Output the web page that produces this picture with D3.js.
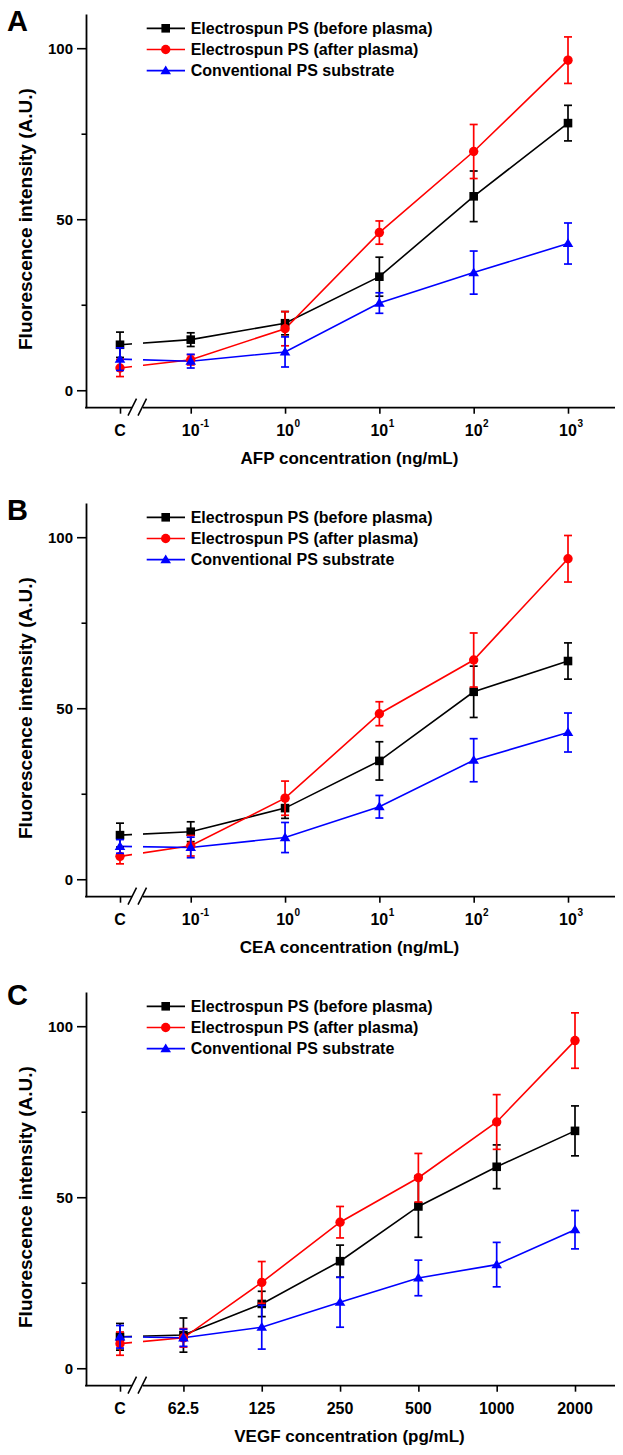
<!DOCTYPE html>
<html>
<head>
<meta charset="utf-8">
<script src="https://cdn.jsdelivr.net/npm/d3@7"></script>
<style>
  body { margin: 0; background: #ffffff; }
  svg text { font-family: "Liberation Sans", Arial, sans-serif; font-weight: bold; fill: #000; }
</style>
</head>
<body>
<svg id="chart" width="623" height="1455"></svg>
<script>
// ---------------- data ----------------
const seriesNames = ["Electrospun PS (before plasma)", "Electrospun PS (after plasma)", "Conventional PS substrate"];
const seriesColors = ["#000000", "#ff0000", "#0000ff"];
const seriesShapes = ["square", "circle", "triangle"];

const afpCategories = ["C", "10^-1", "10^0", "10^1", "10^2", "10^3"];
const afpBefore    = [13.3, 14.8, 19.6, 33.2, 56.7, 78.1];
const afpBeforeErr = [3.7, 2.0, 3.4, 5.7, 7.4, 5.2];
const afpAfter     = [6.5, 8.9, 18.0, 46.1, 69.8, 96.5];
const afpAfterErr  = [2.5, 1.5, 5.0, 3.4, 7.9, 6.8];
const afpConv      = [9.1, 8.5, 11.2, 25.5, 34.4, 42.9];
const afpConvErr   = [3.3, 2.0, 4.4, 3.0, 6.3, 6.0];

const ceaCategories = ["C", "10^-1", "10^0", "10^1", "10^2", "10^3"];
const ceaBefore    = [12.9, 13.9, 20.8, 34.6, 54.8, 63.8];
const ceaBeforeErr = [3.5, 2.9, 3.0, 5.6, 7.5, 5.3];
const ceaAfter     = [6.7, 9.8, 23.7, 48.4, 64.1, 93.7];
const ceaAfterErr  = [2.2, 3.0, 5.0, 3.5, 7.9, 6.8];
const ceaConv      = [9.6, 9.3, 12.2, 21.2, 34.8, 42.9];
const ceaConvErr   = [2.0, 3.0, 4.4, 3.3, 6.3, 5.7];

const vegfCategories = ["C", "62.5", "125", "250", "500", "1000", "2000"];
const vegfBefore    = [9.2, 9.7, 18.8, 31.3, 47.3, 58.9, 69.4];
const vegfBeforeErr = [3.9, 5.0, 3.7, 4.7, 9.0, 6.4, 7.3];
const vegfAfter     = [7.2, 8.9, 25.1, 42.7, 55.7, 72.0, 95.8];
const vegfAfterErr  = [3.4, 2.7, 6.1, 4.6, 7.1, 8.0, 8.1];
const vegfConv      = [9.2, 8.9, 12.0, 19.3, 26.4, 30.3, 40.5];
const vegfConvErr   = [3.3, 2.5, 6.4, 7.3, 5.2, 6.5, 5.6];

const yMajorTicks = [0, 50, 100];
const yMinorTicks = [25, 75];
const panelLetters = ["A", "B", "C"];
const xTitles = ["AFP concentration (ng/mL)", "CEA concentration (ng/mL)", "VEGF concentration (pg/mL)"];
const yTitle = "Fluorescence intensity (A.U.)";

// ---------------- layout ----------------
const panels = [
  { cats: afpCategories, vals: [afpBefore, afpAfter, afpConv], errs: [afpBeforeErr, afpAfterErr, afpConvErr], top: 0,   cGap: 0.75, lastX: 568, letterY: 31 },
  { cats: ceaCategories, vals: [ceaBefore, ceaAfter, ceaConv], errs: [ceaBeforeErr, ceaAfterErr, ceaConvErr], top: 489, cGap: 0.75, lastX: 568, letterY: 31 },
  { cats: vegfCategories, vals: [vegfBefore, vegfAfter, vegfConv], errs: [vegfBeforeErr, vegfAfterErr, vegfConvErr], top: 978, cGap: 0.81, lastX: 575, letterY: 27 }
];

const axisX = 86, axisRight = 615, cX = 120;
const plotTop = 14, plotBottom = 407.7;
const gapL = 132, gapR = 143;

const svg = d3.select("#chart");
const defs = svg.append("defs");

function marker(g, shape, x, y, color) {
  if (shape === "square") {
    g.append("rect").attr("x", x - 4.3).attr("y", y - 4.3).attr("width", 8.6).attr("height", 8.6).attr("fill", color);
  } else if (shape === "circle") {
    g.append("circle").attr("cx", x).attr("cy", y).attr("r", 4.7).attr("fill", color);
  } else {
    g.append("path").attr("d", `M${x},${y - 5.2} L${x + 5.3},${y + 3.6} L${x - 5.3},${y + 3.6} Z`).attr("fill", color);
  }
}

panels.forEach((p, pi) => {
  const g = svg.append("g").attr("transform", `translate(0,${p.top})`);

  const y = d3.scaleLinear().domain([-5.1, 110]).range([plotBottom, plotTop]);
  const x = d3.scaleLinear().domain([-p.cGap, p.cats.length - 2]).range([cX, p.lastX]);
  const pos = i => (i === 0 ? -p.cGap : i - 1);

  // clip (in the panel's own coordinates) to break lines at the axis break
  const clipId = "clip" + pi;
  const cp = defs.append("clipPath").attr("id", clipId).attr("clipPathUnits", "userSpaceOnUse");
  cp.append("rect").attr("x", 0).attr("y", -20).attr("width", gapL).attr("height", 520);
  cp.append("rect").attr("x", gapR).attr("y", -20).attr("width", 623 - gapR).attr("height", 520);

  // panel letter
  g.append("text").attr("x", 7).attr("y", p.letterY).style("font-size", "29px").text(panelLetters[pi]);

  // y axis
  const yAxis = d3.axisLeft(y).tickValues(yMajorTicks).tickSize(9).tickPadding(4).tickSizeOuter(0);
  const ya = g.append("g").attr("transform", `translate(${axisX},0)`).call(yAxis);
  ya.select(".domain").attr("stroke-width", 1.8);
  ya.selectAll(".tick line").attr("stroke-width", 1.6);
  ya.selectAll(".tick text").style("font-size", "15px").attr("font-family", null);
  const yMinor = d3.axisLeft(y).tickValues(yMinorTicks).tickSize(4.5).tickFormat("").tickSizeOuter(0);
  const ym = g.append("g").attr("transform", `translate(${axisX},0)`).call(yMinor);
  ym.select(".domain").remove();
  ym.selectAll(".tick line").attr("stroke-width", 1.6);

  // x axis (with break)
  const xAxis = d3.axisBottom(x).tickValues(p.cats.map((c, i) => pos(i))).tickSize(6).tickFormat("").tickSizeOuter(0);
  const xa = g.append("g").attr("transform", `translate(0,${plotBottom})`).call(xAxis);
  xa.select(".domain").remove();
  xa.selectAll(".tick line").attr("stroke-width", 1.6);
  g.append("line").attr("x1", axisX - 0.9).attr("x2", gapL).attr("y1", plotBottom).attr("y2", plotBottom).attr("stroke", "#000").attr("stroke-width", 1.8);
  g.append("line").attr("x1", gapR).attr("x2", axisRight).attr("y1", plotBottom).attr("y2", plotBottom).attr("stroke", "#000").attr("stroke-width", 1.8);
  [0, 10].forEach(dx => {
    g.append("line").attr("x1", 128 + dx).attr("y1", plotBottom + 8).attr("x2", 136.5 + dx).attr("y2", plotBottom - 9)
      .attr("stroke", "#000").attr("stroke-width", 1.6);
  });

  // x tick labels
  const labelY = plotBottom + 28;
  p.cats.forEach((c, i) => {
    const xp = x(pos(i));
    if (c.includes("^")) {
      const [base, exp] = c.split("^");
      const t = g.append("text").attr("x", xp).attr("y", labelY).attr("text-anchor", "middle").style("font-size", "16px").text(base);
      const w = t.node().getComputedTextLength();
      g.append("text").attr("x", xp + w / 2 + 0.5).attr("y", labelY - 8.5).style("font-size", "10px").text(exp);
    } else {
      g.append("text").attr("x", xp).attr("y", labelY).attr("text-anchor", "middle").style("font-size", "16px").text(c);
    }
  });

  // axis titles
  g.append("text").attr("x", (axisX + axisRight) / 2 - 1).attr("y", plotBottom + 56).attr("text-anchor", "middle")
    .style("font-size", "17px").text(xTitles[pi]);
  g.append("text").attr("transform", `translate(32,350) rotate(-90)`).attr("text-anchor", "start")
    .style("font-size", "19px").text(yTitle);

  // lines
  const line = d3.line().x(d => x(d[0])).y(d => y(d[1]));
  p.vals.forEach((vals, si) => {
    g.append("path").datum(vals.map((v, i) => [pos(i), v])).attr("d", line)
      .attr("fill", "none").attr("stroke", seriesColors[si]).attr("stroke-width", 1.6)
      .attr("clip-path", `url(#${clipId})`);
  });

  // error bars + markers
  p.vals.forEach((vals, si) => {
    const col = seriesColors[si];
    const sg = g.append("g");
    vals.forEach((v, i) => {
      const e = p.errs[si][i];
      const xp = x(pos(i));
      sg.append("line").attr("x1", xp).attr("x2", xp).attr("y1", y(v - e)).attr("y2", y(v + e)).attr("stroke", col).attr("stroke-width", 1.7);
      [v - e, v + e].forEach(vv => {
        sg.append("line").attr("x1", xp - 4).attr("x2", xp + 4).attr("y1", y(vv)).attr("y2", y(vv)).attr("stroke", col).attr("stroke-width", 1.7);
      });
      marker(sg, seriesShapes[si], xp, y(v), col);
    });
  });

  // legend
  seriesNames.forEach((name, si) => {
    const ly = 28.3 + si * 21.2;
    g.append("line").attr("x1", 146.7).attr("x2", 185).attr("y1", ly).attr("y2", ly).attr("stroke", seriesColors[si]).attr("stroke-width", 1.7);
    marker(g, seriesShapes[si], 165.7, ly, seriesColors[si]);
    g.append("text").attr("x", 190.7).attr("y", ly).attr("dy", "0.36em").style("font-size", "16px").text(name);
  });
});
</script>
</body>
</html>
